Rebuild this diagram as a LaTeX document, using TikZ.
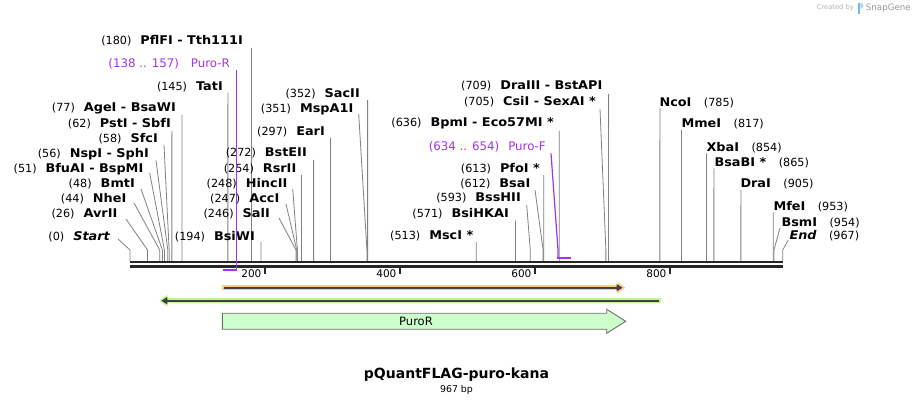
\documentclass[tikz,border=0pt]{standalone}
\usepackage{fontspec}
\setmainfont{DejaVu Sans}
\newfontfamily\enzfont[FakeStretch=1.07]{DejaVu Sans}
\usetikzlibrary{arrows.meta}
\usetikzlibrary{positioning}

\definecolor{primer}{RGB}{160,50,240}
\definecolor{cutgray}{RGB}{128,128,128}
\definecolor{orangeglow}{RGB}{255,204,122}
\definecolor{greenglow}{RGB}{188,245,140}
\definecolor{featgreen}{RGB}{204,255,204}
\definecolor{featline}{RGB}{110,110,110}
\definecolor{darkline}{RGB}{64,64,64}
\definecolor{snapblue}{RGB}{110,185,235}

\newcommand{\enz}[1]{{\enzfont\fontsize{12}{14}\selectfont\bfseries #1}}

\tikzset{
  site/.style={inner sep=0pt, font=\fontsize{11.2}{13}\selectfont},
  cut/.style={draw=cutgray, line width=0.8pt},
  primerline/.style={draw=primer, line width=1.2pt},
  primerbar/.style={draw=primer, line width=2pt},
  backbone/.style={draw=black!85, line width=2.6pt},
  tickmark/.style={draw=black!85, line width=1.5pt},
  scalelbl/.style={inner sep=0pt, font=\fontsize{10.5}{12}\selectfont},
}

\begin{document}
\begin{tikzpicture}[x=1pt,y=-1pt]
  \useasboundingbox (0,0) rectangle (914,406);

  % sites with labels left of the cut
  \foreach \n/\xe/\ye/\xt/\yt/\bp/\txt in {
    PflFI/243/41/251.5/48/180/{(180)\hspace{9pt}\enz{PflFI - Tth111I}},
    TatI/223/87/227.9/93/145/{(145)\hspace{9pt}\enz{TatI}},
    AgeI/176/108.5/182/115/77/{(77)\hspace{9pt}\enz{AgeI - BsaWI}},
    PstI/171/124/171.9/131/62/{(62)\hspace{9pt}\enz{PstI - SbfI}},
    SfcI/158/138.5/164/145/58/{(58)\hspace{9pt}\enz{SfcI}},
    NspI/149/154/156/160.5/56/{(56)\hspace{9pt}\enz{NspI - SphI}},
    BfuAI/143.5/169/149.7/173/51/{(51)\hspace{9pt}\enz{BfuAI - BspMI}},
    BmtI/135/183.5/141/189/48/{(48)\hspace{9pt}\enz{BmtI}},
    NheI/126.5/198.5/134/203/44/{(44)\hspace{9pt}\enz{NheI}},
    AvrII/117.5/213.5/126/219/26/{(26)\hspace{9pt}\enz{AvrII}},
    Start/110/236.7/118/239/0/{(0)\hspace{9pt}\enz{\itshape Start}},
    BsiWI/255/236.7/261/242/194/{(194)\hspace{9pt}\enz{BsiWI}},
    SalI/270/213.5/279/218/246/{(246)\hspace{9pt}\enz{SalI}},
    AccI/279.5/198.5/286/204/247/{(247)\hspace{9pt}\enz{AccI}},
    HincII/287.5/183.7/292.7/189/248/{(248)\hspace{9pt}\enz{HincII}},
    RsrII/296.5/168.7/301.5/175/254/{(254)\hspace{9pt}\enz{RsrII}},
    BstEII/307/153.3/313.6/160/272/{(272)\hspace{9pt}\enz{BstEII}},
    EarI/325/131.7/330.5/138/297/{(297)\hspace{9pt}\enz{EarI}},
    MspAI/353.5/109/358.7/114/351/{(351)\hspace{9pt}\enz{MspA1I}},
    SacII/360/94/367.6/100/352/{(352)\hspace{9pt}\enz{SacII}},
    DraIII/602.5/86/608.6/94/709/{(709)\hspace{9pt}\enz{DraIII - BstAPI}},
    CsiI/596/101.7/600/109/705/{(705)\hspace{9pt}\enz{CsiI - SexAI *}},
    BpmI/554/123.3/559.3/130.7/636/{(636)\hspace{9pt}\enz{BpmI - Eco57MI *}},
    PfoI/540/168.7/543.8/175/613/{(613)\hspace{9pt}\enz{PfoI *}},
    BsaI/530.5/184/535/190/612/{(612)\hspace{9pt}\enz{BsaI}},
    BssHII/521/198.3/526.7/205/593/{(593)\hspace{9pt}\enz{BssHII}},
    BsiHKAI/509/214/515.4/220.7/571/{(571)\hspace{9pt}\enz{BsiHKAI}},
    MscI/473.5/235.7/476.3/242/513/{(513)\hspace{9pt}\enz{MscI *}}%
  }{
    \node[site, anchor=east] (l\n) at (\xe,\ye) {\txt};
    \coordinate (t\n) at (\xt,\yt);
    \coordinate (k\n) at ({130+0.675*\bp},250);
    \coordinate (c\n) at ({130+0.675*\bp},261);
    \draw[cut] (t\n) -- (k\n) -- (c\n);
  }

  % sites with labels right of the cut
  \foreach \n/\xw/\ye/\xt/\yt/\bp/\txt in {
    NcoI/659.3/102.7/659.9/108/785/{\enz{NcoI}\hspace{12.5pt}(785)},
    MmeI/681.3/124.3/681.5/130/817/{\enz{MmeI}\hspace{12.5pt}(817)},
    XbaI/706.3/147.7/706.5/153.3/854/{\enz{XbaI}\hspace{12.5pt}(854)},
    BsaBI/714.3/162.3/713.9/168.3/865/{\enz{BsaBI *}\hspace{12.5pt}(865)},
    DraI/740.3/184.3/740.9/190/905/{\enz{DraI}\hspace{12.5pt}(905)},
    MfeI/773.3/207/773.3/212.7/953/{\enz{MfeI}\hspace{12.5pt}(953)},
    BsmI/781.3/222.7/780/228/954/{\enz{BsmI}\hspace{12.5pt}(954)},
    End/789.3/236/788.3/240/967/{\enz{\itshape End}\hspace{12.5pt}(967)}%
  }{
    \node[site, anchor=west] (l\n) at (\xw,\ye) {\txt};
    \coordinate (t\n) at (\xt,\yt);
    \coordinate (k\n) at ({130+0.675*\bp},250);
    \coordinate (c\n) at ({130+0.675*\bp},261);
    \draw[cut] (t\n) -- (k\n) -- (c\n);
  }

  % backbone and scale
  \coordinate (bbL) at (130,262);
  \coordinate (bbR) at (783,262);
  \draw[backbone] (bbL) -- (bbR);
  \draw[backbone] ([yshift=-4.5pt]bbL) -- ([yshift=-4.5pt]bbR);
  \foreach \t in {200,400,600,800}{
    \coordinate (tk\t) at ({130+0.675*\t},268.3);
    \draw[tickmark] (tk\t) -- ++(0,6);
    \node[scalelbl, anchor=east] at ([xshift=-3.4pt,yshift=-5.7pt]tk\t) {\t};
  }

  % primers
  \node[site, text=primer, font=\fontsize{11.8}{13}\selectfont, anchor=east] (lPuroR) at (230,64) {(138 .. 157)\hspace{12pt}Puro-R};
  \coordinate (tPuroR) at (236.3,70);
  \coordinate (cPuroR) at (236.3,271);
  \coordinate (ePuroR) at (223.2,270.3);
  \draw[primerline] (tPuroR) -- (cPuroR);
  \draw[primerbar] (ePuroR) -- (cPuroR |- ePuroR);

  \node[site, text=primer, font=\fontsize{11.8}{13}\selectfont, anchor=east] (lPuroF) at (546,147.3) {(634 .. 654)\hspace{9pt}Puro-F};
  \coordinate (tPuroF) at (551,153.3);
  \coordinate (kPuroF) at (558,250);
  \coordinate (cPuroF) at (558,257.7);
  \coordinate (ePuroF) at (571,257.7);
  \draw[primerline] (tPuroF) -- (kPuroF) -- (cPuroF);
  \draw[primerbar] ([xshift=-1pt]cPuroF) -- (ePuroF);

  % features
  \coordinate (oL) at (222.3,287.7);
  \coordinate (oR) at (625.5,287.7);
  \draw[orangeglow, line width=5.3pt, -{Triangle[length=8pt,width=11pt]}] (oL) -- (oR);
  \draw[darkline, line width=2pt, -{Triangle[length=6pt,width=7pt]}] ([xshift=2pt]oL) -- ([xshift=-3pt]oR);

  \coordinate (gL) at (159.3,300.7);
  \coordinate (gR) at (661,300.7);
  \draw[greenglow, line width=5.5pt, {Triangle[length=8pt,width=11pt]}-] (gL) -- (gR);
  \draw[darkline, line width=2pt, {Triangle[length=6pt,width=7pt]}-] ([xshift=2pt]gL) -- ([xshift=-2.3pt]gR);

  \draw[featline, fill=featgreen, line width=0.9pt]
    (222.3,313.3) -- (606.7,313.3) -- (606.7,309.3) -- (625.7,321.3)
    -- (606.7,333.3) -- (606.7,329.3) -- (222.3,329.3) -- cycle;
  \node[site, font=\fontsize{11.5}{13}\selectfont] (PuroR) at (416,321.3) {PuroR};

  % title
  \node[inner sep=0pt, font=\fontsize{14}{16}\selectfont\bfseries] (title) at (456.5,375) {pQuantFLAG-puro-kana};
  \node[inner sep=0pt, font=\fontsize{9.4}{11}\selectfont, below=3pt of title] (len) {967 bp};

  % watermark
  \node[inner sep=0pt, anchor=east, text=black!40, font=\fontsize{8.7}{10}\selectfont] (snap) at (911,8) {SnapGene};
  \fill[snapblue] (858,2.8) rectangle (860.3,14);
  \fill[snapblue!60] (860.3,2.8) -- (862,3.3) -- (863.5,5.5) -- (862,8.2) -- (860.3,8.7) -- cycle;
  \node[inner sep=0pt, anchor=east, text=black!30, font=\fontsize{6.7}{8}\selectfont] (created) at (854,8) {Created by};
\end{tikzpicture}
\end{document}
